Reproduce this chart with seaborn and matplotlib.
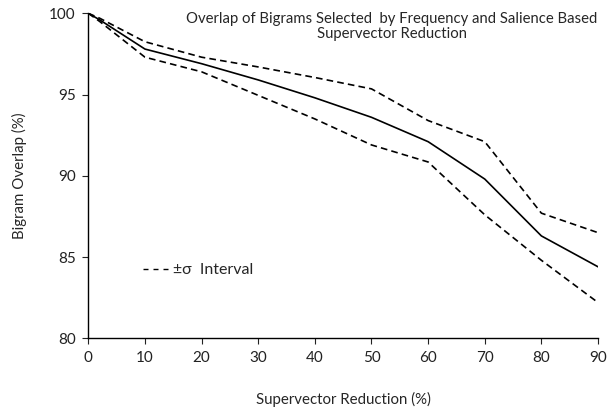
import numpy as np
import pandas as pd
import matplotlib.pyplot as plt
import seaborn as sns
from matplotlib.lines import Line2D

sns.set_theme(style="ticks")
plt.rcParams["font.family"] = ["Lato", "DejaVu Sans"]

# data
reduction = [0, 2, 10, 20, 30, 40, 50, 60, 70, 80, 90]
overlap_mean = [100, 99.6, 97.8, 96.9, 95.9, 94.8, 93.6, 92.1, 89.8, 86.3, 84.4]
overlap_upper = [100, 99.7, 98.25, 97.3, 96.7, 96.05, 95.35, 93.4, 92.1, 87.7, 86.5]
overlap_lower = [100, 99.5, 97.3, 96.4, 94.95, 93.5, 91.9, 90.85, 87.6, 84.8, 82.2]

df = pd.DataFrame({
    "reduction": reduction,
    "mean": overlap_mean,
    "upper": overlap_upper,
    "lower": overlap_lower,
})

fig = plt.figure(figsize=(6.15, 4.11), dpi=100)
ax = fig.add_axes([0.1436, 0.1769, 0.8288, 0.7907])

sns.lineplot(data=df, x="reduction", y="mean", color="black", lw=1.2, ax=ax)
for col in ["upper", "lower"]:
    sns.lineplot(data=df, x="reduction", y=col, color="black", lw=1.2,
                 dashes=False, ax=ax, linestyle=(0, (4, 2.5)))

ax.set_xlim(0, 90)
ax.set_ylim(80, 100)
ax.set_xticks(range(0, 91, 10))
ax.set_yticks(range(80, 101, 5))
ax.tick_params(axis="both", labelsize=11, length=4, width=0.8, colors="#222222",
               direction="out", pad=5)
for s in ["top", "right"]:
    ax.spines[s].set_visible(False)
for s in ["left", "bottom"]:
    ax.spines[s].set_color("black")
    ax.spines[s].set_linewidth(1.0)

ax.set_xlabel("Supervector Reduction (%)", fontsize=10.8)
ax.set_ylabel("Bigram Overlap (%)", fontsize=10.8)
ax.xaxis.set_label_coords(0.5, -0.165)
ax.yaxis.set_label_coords(-0.12, 0.5)

ax.text(0.595, 1.005, "Overlap of Bigrams Selected  by Frequency and Salience Based\nSupervector Reduction",
        transform=ax.transAxes, ha="center", va="top", fontsize=10.7, linespacing=1.15)

handle = Line2D([], [], color="black", lw=1.0, linestyle=(0, (3.6, 3.6)))
ax.legend([handle], ["\u00b1\u03c3  Interval"], loc="center left",
          bbox_to_anchor=(0.08, 0.21), frameon=False, fontsize=11.5,
          handlelength=1.8, handletextpad=0.05)

fig.savefig("out.png", dpi=100)
